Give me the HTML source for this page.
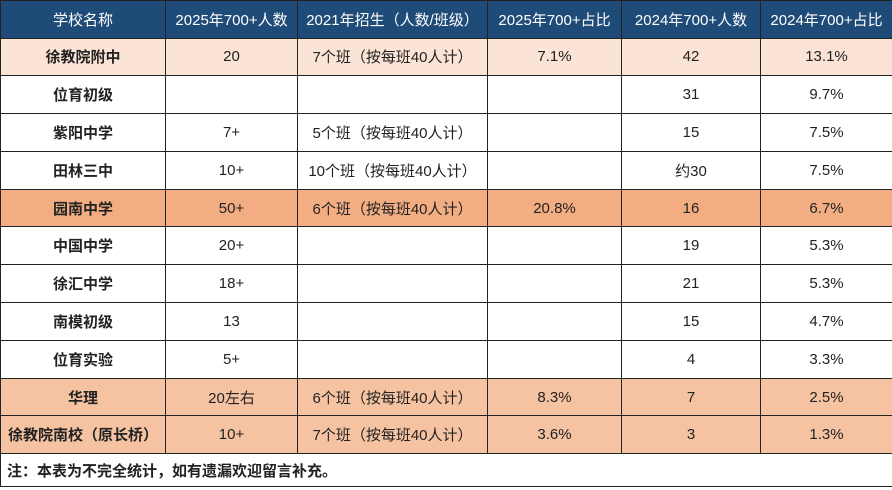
<!DOCTYPE html>
<html><head><meta charset="utf-8"><style>
html,body{margin:0;padding:0;background:#fff;}
body{width:892px;height:490px;overflow:hidden;font-family:"Liberation Sans","Noto Sans CJK SC",sans-serif;}
table{border-collapse:collapse;table-layout:fixed;width:892px;position:absolute;left:0;top:0;}
td,th{border:1.5px solid #222;text-align:center;font-size:15px;color:#222;height:36.8px;padding:0;white-space:nowrap;}
th{background:#1f4b78;color:#fff;font-weight:normal;font-size:15px;height:36.5px;}
td:first-child{font-weight:bold;}
tr.p td{background:#fbe3d5;}
tr.o td{background:#f2ad82;}
tr.o2 td{background:#f6c3a2;}
td.note{text-align:left;font-weight:bold;padding-left:6px;height:32px;background:#fff;}
</style></head><body>
<table>
<colgroup><col style="width:165px"><col style="width:132px"><col style="width:190px"><col style="width:134px"><col style="width:139px"><col style="width:132px"></colgroup>
<tr><th>学校名称</th><th>2025年700+人数</th><th>2021年招生（人数/班级）</th><th>2025年700+占比</th><th>2024年700+人数</th><th>2024年700+占比</th></tr>
<tr class="p"><td>徐教院附中</td><td>20</td><td>7个班（按每班40人计）</td><td>7.1%</td><td>42</td><td>13.1%</td></tr>
<tr><td>位育初级</td><td></td><td></td><td></td><td>31</td><td>9.7%</td></tr>
<tr><td>紫阳中学</td><td>7+</td><td>5个班（按每班40人计）</td><td></td><td>15</td><td>7.5%</td></tr>
<tr><td>田林三中</td><td>10+</td><td>10个班（按每班40人计）</td><td></td><td>约30</td><td>7.5%</td></tr>
<tr class="o"><td>园南中学</td><td>50+</td><td>6个班（按每班40人计）</td><td>20.8%</td><td>16</td><td>6.7%</td></tr>
<tr><td>中国中学</td><td>20+</td><td></td><td></td><td>19</td><td>5.3%</td></tr>
<tr><td>徐汇中学</td><td>18+</td><td></td><td></td><td>21</td><td>5.3%</td></tr>
<tr><td>南模初级</td><td>13</td><td></td><td></td><td>15</td><td>4.7%</td></tr>
<tr><td>位育实验</td><td>5+</td><td></td><td></td><td>4</td><td>3.3%</td></tr>
<tr class="o2"><td>华理</td><td>20左右</td><td>6个班（按每班40人计）</td><td>8.3%</td><td>7</td><td>2.5%</td></tr>
<tr class="o2"><td>徐教院南校（原长桥）</td><td>10+</td><td>7个班（按每班40人计）</td><td>3.6%</td><td>3</td><td>1.3%</td></tr>
<tr><td class="note" colspan="6">注：本表为不完全统计，如有遗漏欢迎留言补充。</td></tr>
</table>
</body></html>
